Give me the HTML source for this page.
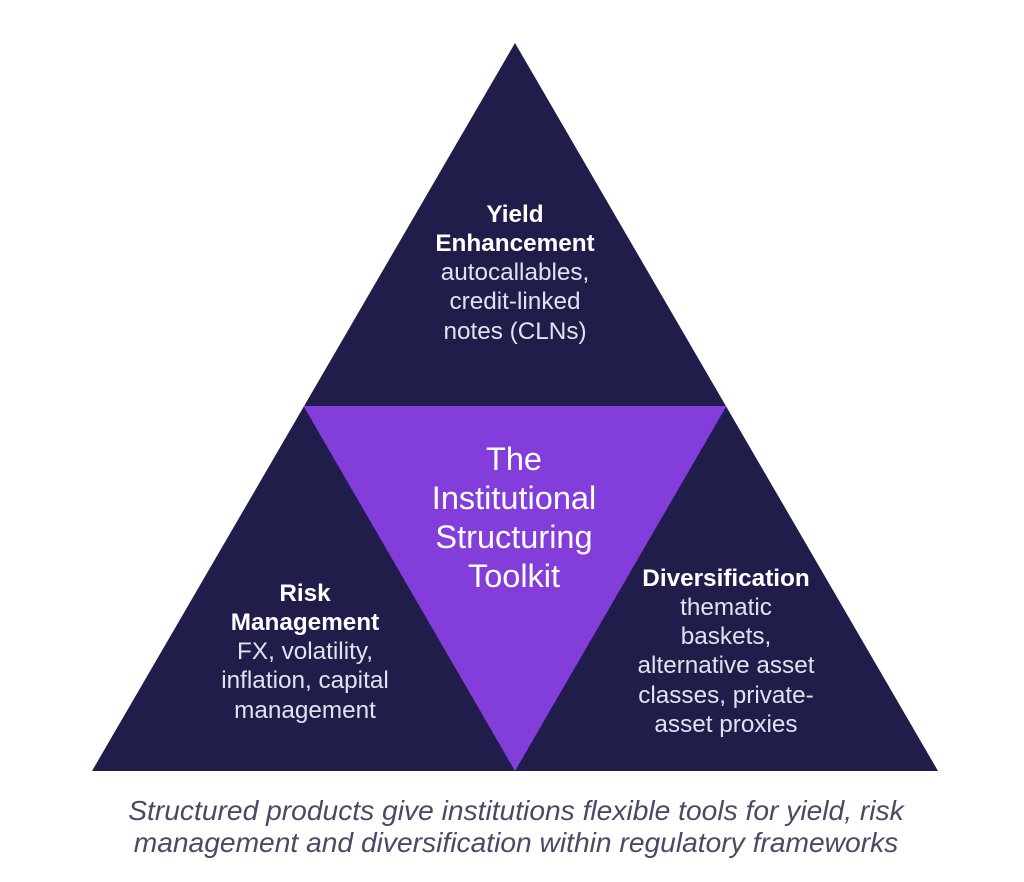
<!DOCTYPE html>
<html>
<head>
<meta charset="utf-8">
<style>
  html, body { margin: 0; padding: 0; background: #ffffff; }
  body { width: 1024px; height: 882px; position: relative; overflow: hidden; font-family: "Liberation Sans", Arial, sans-serif; }
  svg { position: absolute; left: 0; top: 0; }
  .blk { position: absolute; text-align: center; white-space: nowrap; }
  .tri { font-size: 24.3px; line-height: 29.3px; color: #e2e2ee; width: 300px; }
  .tri b { color: #ffffff; font-weight: bold; }
  .center { font-size: 32.5px; line-height: 39px; color: #ffffff; width: 300px; }
  .cap { font-size: 28.2px; line-height: 32px; color: #4a4966; font-style: italic; width: 1000px; }
</style>
</head>
<body>
<svg width="1024" height="882" viewBox="0 0 1024 882">
  <polygon points="515,43 92,771 938,771" fill="#201d4b"/>
  <polygon points="303.5,406 726.5,406 515,771" fill="#823ddb"/>
</svg>

<div class="blk tri" style="left:365px; top:199.5px;">
  <b>Yield</b><br><b>Enhancement</b><br>autocallables,<br>credit-linked<br>notes (CLNs)
</div>

<div class="blk center" style="left:364px; top:439.5px;">
  The<br>Institutional<br>Structuring<br>Toolkit
</div>

<div class="blk tri" style="left:155px; top:578.5px;">
  <b>Risk</b><br><b>Management</b><br>FX, volatility,<br>inflation, capital<br>management
</div>

<div class="blk tri" style="left:576px; top:563.5px;">
  <b>Diversification</b><br>thematic<br>baskets,<br>alternative asset<br>classes, private-<br>asset proxies
</div>

<div class="blk cap" style="left:16px; top:794px;">
  Structured products give institutions flexible tools for yield, risk<br>management and diversification within regulatory frameworks
</div>
</body>
</html>
